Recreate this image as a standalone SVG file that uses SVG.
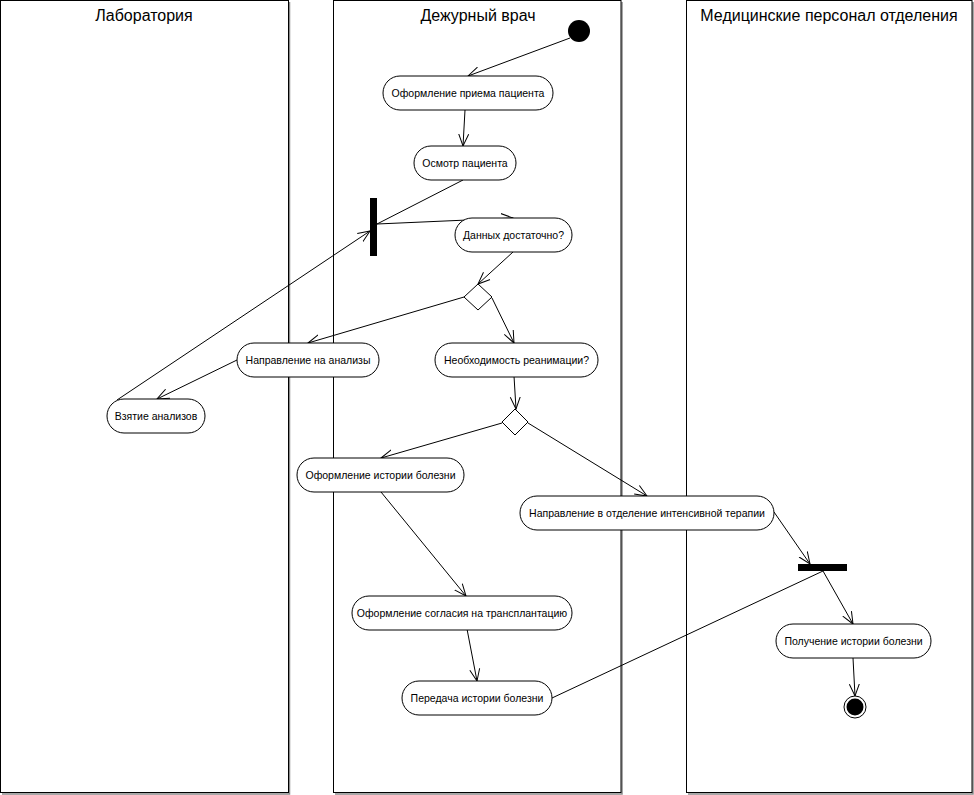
<svg xmlns="http://www.w3.org/2000/svg" width="974" height="795" viewBox="0 0 974 795">
<style>
.lane{fill:#fff;stroke:#000;stroke-width:1}
.shadow{fill:none;stroke:#8a8a8a;stroke-width:1.5}
.title{font-family:"Liberation Sans",Arial,sans-serif;font-size:16px;fill:#000;text-anchor:middle}
.act{fill:#fff;stroke:#000;stroke-width:1}
.lbl{font-family:"Liberation Sans",Arial,sans-serif;font-size:10.5px;fill:#000;text-anchor:middle}
.edge{fill:none;stroke:#000;stroke-width:1}
.arr{marker-end:url(#open)}
</style>
<defs>
<marker id="open" markerUnits="userSpaceOnUse" markerWidth="14" markerHeight="12" refX="12" refY="6" orient="auto">
<path d="M0,1 L12,6 L0,11" fill="none" stroke="#000" stroke-width="1"/>
</marker>
</defs>
<rect width="974" height="795" fill="#fff"/>
<g id="lane-lab">
<path class="shadow" d="M289.5,2 V794 H2"/>
<rect class="lane" x="0.5" y="0.5" width="288" height="792"/>
<text class="title" x="144" y="21">Лаборатория</text>
</g>
<g id="lane-doctor">
<path class="shadow" d="M622,2 V794 H335"/>
<rect class="lane" x="333.5" y="0.5" width="287.5" height="792"/>
<text class="title" x="478" y="21">Дежурный врач</text>
</g>
<g id="lane-staff">
<path class="shadow" d="M973,2 V794 H688"/>
<rect class="lane" x="686.5" y="0.5" width="285.5" height="792"/>
<text class="title" x="829" y="21">Медицинские персонал отделения</text>
</g>
<g id="connectors">
<path class="edge arr" d="M570,38 L468,76"/>
<path class="edge arr" d="M465,110 L463,146"/>
<path class="edge" d="M463,180 L377,224"/>
<path class="edge arr" d="M377,224 L513,218"/>
<path class="edge arr" d="M513,252 L478,284"/>
<path class="edge arr" d="M464,297 L308,343"/>
<path class="edge arr" d="M492,298 L514,343"/>
<path class="edge arr" d="M514,376 L516,409"/>
<path class="edge arr" d="M237,360 L157,399"/>
<path class="edge arr" d="M117,400 L370,231"/>
<path class="edge arr" d="M502,423 L381,458"/>
<path class="edge arr" d="M528,423 L647,496"/>
<path class="edge arr" d="M381,492 L466,596"/>
<path class="edge arr" d="M467,629 L477,681"/>
<path class="edge" d="M552,698 L823,571"/>
<path class="edge arr" d="M774,512 L810,564"/>
<path class="edge arr" d="M823,571 L853,624"/>
<path class="edge arr" d="M853,658 L855,696"/>
</g>
<g id="start"><circle cx="579" cy="31" r="11" fill="#000"/></g>
<g id="n1"><rect class="act" x="383" y="76" width="170" height="34" rx="17"/><text class="lbl" x="468" y="97">Оформление приема пациента</text></g>
<g id="n2"><rect class="act" x="414" y="146" width="102" height="34" rx="17"/><text class="lbl" x="465" y="167">Осмотр пациента</text></g>
<g id="fork1"><rect x="370" y="198" width="7" height="58" fill="#000"/></g>
<g id="n3"><rect class="act" x="455" y="218" width="117" height="34" rx="17"/><text class="lbl" x="513.5" y="239">Данных достаточно?</text></g>
<g id="d1"><path class="act" d="M478,284 L492,297 L478,310 L464,297 Z"/></g>
<g id="n4"><rect class="act" x="237" y="343" width="142" height="34" rx="17"/><text class="lbl" x="308" y="364">Направление на анализы</text></g>
<g id="n5"><rect class="act" x="435" y="343" width="163" height="34" rx="17"/><text class="lbl" x="516.5" y="364">Необходимость реанимации?</text></g>
<g id="n6"><rect class="act" x="107" y="399" width="98" height="34" rx="17"/><text class="lbl" x="156" y="420">Взятие анализов</text></g>
<g id="d2"><path class="act" d="M515,409 L528,422 L515,435 L502,422 Z"/></g>
<g id="n7"><rect class="act" x="297" y="458" width="167" height="34" rx="17"/><text class="lbl" x="380.5" y="479">Оформление истории болезни</text></g>
<g id="n8"><rect class="act" x="520" y="496" width="254" height="34" rx="17"/><text class="lbl" x="647" y="517">Направление в отделение интенсивной терапии</text></g>
<g id="join1"><rect x="798" y="564" width="49" height="7" fill="#000"/></g>
<g id="n9"><rect class="act" x="352" y="596" width="220" height="34" rx="17"/><text class="lbl" x="462" y="617">Оформление согласия на трансплантацию</text></g>
<g id="n10"><rect class="act" x="776" y="624" width="155" height="34" rx="17"/><text class="lbl" x="853.5" y="645">Получение истории болезни</text></g>
<g id="n11"><rect class="act" x="402" y="681" width="150" height="34" rx="17"/><text class="lbl" x="477" y="702">Передача истории болезни</text></g>
<g id="end"><circle cx="855" cy="707" r="11" fill="#fff" stroke="#000" stroke-width="1"/><circle cx="855" cy="707" r="8.5" fill="#000"/></g>
</svg>
